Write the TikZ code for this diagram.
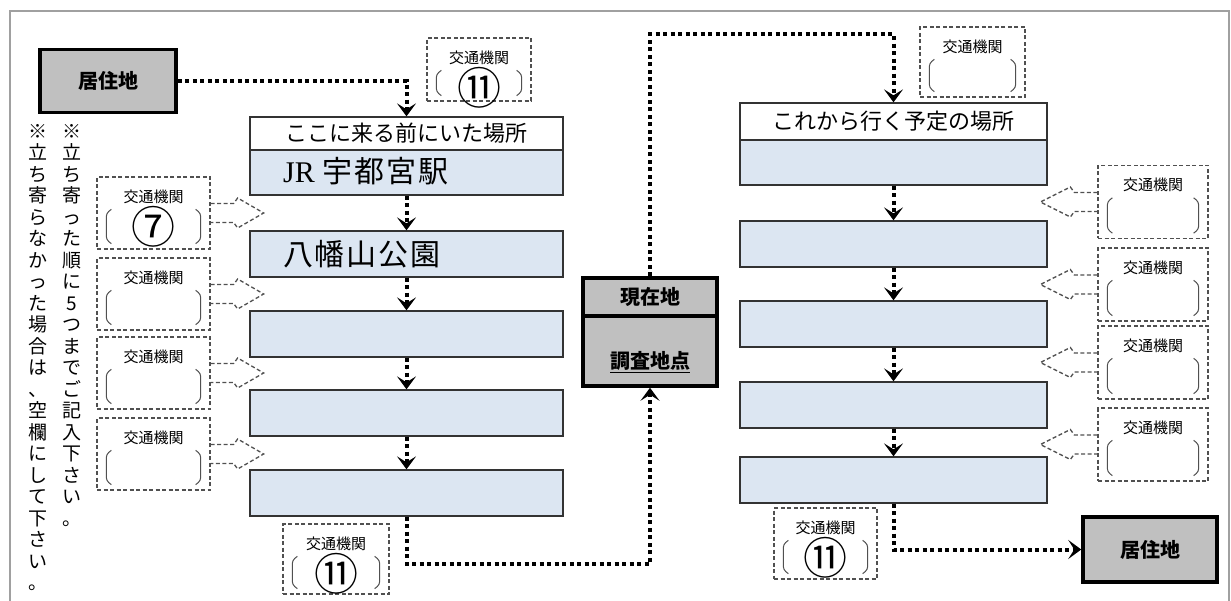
\documentclass[tikz,border=0pt]{standalone}
\usepackage{fontspec}
\setmainfont{Noto Sans CJK JP}
\newfontfamily\jrserif{Liberation Serif}
\usetikzlibrary{arrows.meta}
\definecolor{paleblue}{HTML}{DCE6F2}
\definecolor{midgray}{HTML}{C0C0C0}
\definecolor{framegray}{HTML}{A0A0A0}
\definecolor{dashgray}{HTML}{505050}
\newcommand\fs[1]{\fontsize{#1}{#1}\selectfont}
\tikzset{
 placebox/.style={draw=black!80, line width=1.3pt, fill=paleblue, inner sep=0pt, minimum width=313pt, minimum height=46pt},
 headbox/.style={placebox, fill=white, font=\fs{22}},
 heavybox/.style={draw=black, line width=3.5pt, fill=midgray, inner sep=0pt, font=\fs{20}\bfseries},
 dotarrow/.style={line width=4pt, dash pattern=on 4pt off 3.5pt, -{Stealth[length=13pt,width=19pt,inset=6pt]}},
 tbox/.style={draw=dashgray, line width=1.3pt, dash pattern=on 4pt off 2.5pt, inner sep=0pt},
 hollow/.style={draw=dashgray, line width=1.3pt, dash pattern=on 4pt off 2.5pt},
 brk/.style={draw=dashgray, line width=1pt, rounded corners=3pt},
 tlabel/.style={font=\fs{15}, inner sep=0pt},
 circnum/.style={font=\fs{44}, inner sep=0pt},
 placetext/.style={anchor=west, inner sep=0pt, font=\fs{30}\addfontfeature{LetterSpace=6}},
 vtext/.style={align=center, inner sep=0pt, font=\fontsize{19}{21.5}\selectfont, anchor=north}
}
\newcommand\kikan[6]{%
 \node[tbox, minimum width=#4pt, minimum height=#5pt] (#1) at (#2,#3) {};
 \node[tlabel] (#1-t) at ([yshift=-20pt]#1.north) {交通機関};
 \draw[brk] ([xshift=15pt,yshift=-33pt]#1.north west) -- ([xshift=10pt,yshift=-37pt]#1.north west) -- ([xshift=10pt,yshift=10pt]#1.south west) -- ([xshift=15pt,yshift=6pt]#1.south west);
 \draw[brk] ([xshift=-15pt,yshift=-33pt]#1.north east) -- ([xshift=-10pt,yshift=-37pt]#1.north east) -- ([xshift=-10pt,yshift=10pt]#1.south east) -- ([xshift=-15pt,yshift=6pt]#1.south east);
 \node[circnum] (#1-c) at ([yshift=-50pt]#1.north) {#6};
}
\begin{document}
\begin{tikzpicture}[x=1pt,y=-1pt]
\useasboundingbox (0,0) rectangle (1231,601);
% frame
\draw[framegray, line width=1.5pt] (10,601) -- (10,11) -- (1229,11) -- (1229,601);

% left column
\node[headbox] (lhead) at (406.5,133.5) [minimum height=33pt] {ここに来る前にいた場所};
\node[placebox, minimum height=45pt] (lb1) at (406.5,172.5) {};
\node[placetext] (lb1t) at (283,171) {{\jrserif JR}\hspace{8pt}宇都宮駅};
\node[placebox] (lb2) at (406.5,254) {};
\node[placetext] (lb2t) at (283,254) {八幡山公園};
\node[placebox] (lb3) at (406.5,334) {};
\node[placebox] (lb4) at (406.5,413) {};
\node[placebox] (lb5) at (406.5,493) {};

% right column
\node[headbox, minimum width=307pt, minimum height=37pt] (rhead) at (893.5,121.5) {これから行く予定の場所};
\node[placebox, minimum width=307pt, minimum height=45pt] (rb1) at (893.5,162.5) {};
\node[placebox, minimum width=307pt] (rb2) at (893.5,244) {};
\node[placebox, minimum width=307pt] (rb3) at (893.5,324) {};
\node[placebox, minimum width=307pt] (rb4) at (893.5,405) {};
\node[placebox, minimum width=307pt] (rb5) at (893.5,480) {};

% heavy boxes
\node[heavybox, minimum width=136pt, minimum height=63pt] (home1) at (108,81) {居住地};
\node[heavybox, minimum width=134pt, minimum height=65pt] (home2) at (1150,549.5) {居住地};
\node[heavybox, minimum width=134pt, minimum height=38pt] (genzai) at (650,297) {現在地};
\node[heavybox, minimum width=134pt, minimum height=70pt] (chosa) at (650,351) {};
\node[inner sep=0pt, font=\fs{20}\bfseries] (chosat) at (650,362) {\underline{調査地点}};

% transport boxes
\kikan{lk1}{153.5}{213}{113}{72}{⑦}
\kikan{lk2}{153.5}{294}{113}{72}{}
\kikan{lk3}{153.5}{373}{113}{72}{}
\kikan{lk4}{153.5}{454}{113}{72}{}
\kikan{rk1}{1153}{202}{110}{73}{}
\kikan{rk2}{1153}{284.5}{110}{73}{}
\kikan{rk3}{1153}{362.5}{110}{73}{}
\kikan{rk4}{1153}{444.5}{110}{73}{}
\kikan{tk1}{479}{69.5}{104}{63}{⑪}
\kikan{tk2}{972.5}{62}{105}{70}{}
\kikan{bk1}{336}{559}{106}{70}{⑪}
\kikan{bk2}{825.5}{543.5}{103}{71}{⑪}

% hollow dashed arrows (left)
\foreach \k in {lk1,lk2,lk3,lk4}{
 \draw[hollow] (\k.east) ++(0,-9.5) -- ++(23,0) -- ++(4,-5.5) -- ++(26,15) -- ++(-26,15) -- ++(-4,-5.5) -- ++(-23,0);
}
% hollow dashed arrows (right)
\foreach \k in {rk1,rk2,rk3,rk4}{
 \draw[hollow] (\k.west) ++(0,-9.5) -- ++(-23,0) -- ++(-4,-5.5) -- ++(-30,15) -- ++(30,15) -- ++(4,-5.5) -- ++(23,0);
}

% dotted connectors
\draw[dotarrow] (home1.east) -- (home1.east -| lhead.north) -- (lhead.north);
\draw[dotarrow] (lb1.south) -- (lb2.north);
\draw[dotarrow] (lb2.south) -- (lb3.north);
\draw[dotarrow] (lb3.south) -- (lb4.north);
\draw[dotarrow] (lb4.south) -- (lb5.north);
\draw[dotarrow] (lb5.south) -- ++(0,47) -| (chosa.south);
\draw[dotarrow] (genzai.north) -- ++(0,-242) -| (rhead.north);
\draw[dotarrow] (rb1.south) -- (rb2.north);
\draw[dotarrow] (rb2.south) -- (rb3.north);
\draw[dotarrow] (rb3.south) -- (rb4.north);
\draw[dotarrow] (rb4.south) -- (rb5.north);
\draw[dotarrow] (rb5.south) |- (home2.west);

% vertical notes
\node[vtext] (note1) at (72,124) {※\\立\\ち\\寄\\っ\\た\\順\\に\\5\\つ\\ま\\で\\ご\\記\\入\\下\\さ\\い\\。};
\node[vtext] (note2) at (38,124) {※\\立\\ち\\寄\\ら\\な\\か\\っ\\た\\場\\合\\は\\、\\空\\欄\\に\\し\\て\\下\\さ\\い\\。};
\end{tikzpicture}
\end{document}
